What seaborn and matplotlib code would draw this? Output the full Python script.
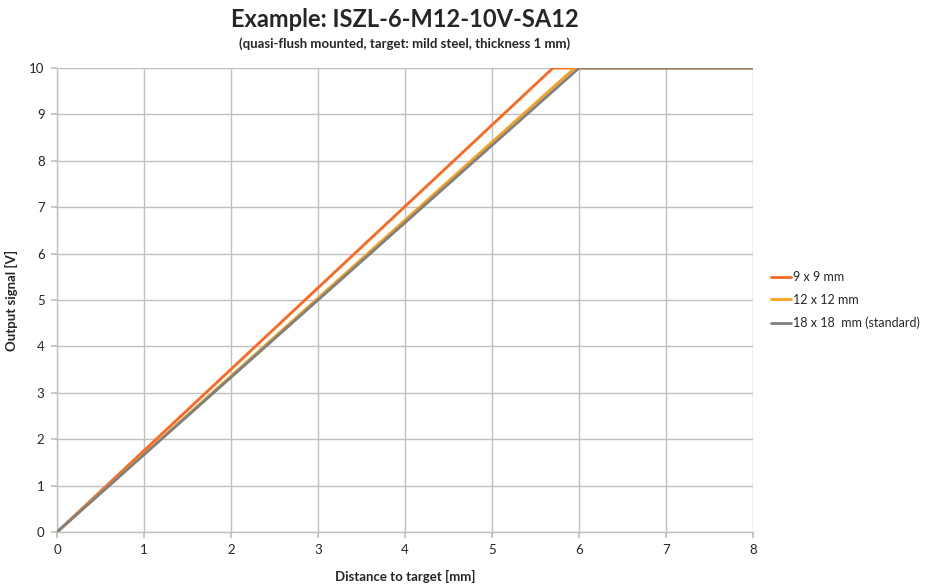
import matplotlib
matplotlib.use("Agg")
import matplotlib.pyplot as plt
import seaborn as sns
import pandas as pd

# readings from the reference chart
series = ["9 x 9 mm", "12 x 12 mm", "18 x 18  mm (standard)"]
dist_9 = [0, 5.7, 8]
volt_9 = [0, 10, 10]
dist_12 = [0, 5.95, 8]
volt_12 = [0, 10, 10]
dist_18 = [0, 6.0, 8]
volt_18 = [0, 10, 10]
colors = ["#FF671F", "#F8A01C", "#808080"]

df = pd.concat([
    pd.DataFrame({"Distance": dist_9, "Signal": volt_9, "Sensor": series[0]}),
    pd.DataFrame({"Distance": dist_12, "Signal": volt_12, "Sensor": series[1]}),
    pd.DataFrame({"Distance": dist_18, "Signal": volt_18, "Sensor": series[2]}),
])

sns.set_theme(style="whitegrid")
plt.rcParams['font.family'] = ['Lato', 'DejaVu Sans']

fig = plt.figure(figsize=(9.32, 5.85), dpi=100)
ax = fig.add_axes([0.0612, 0.0906, 0.7468, 0.7932])

sns.lineplot(data=df, x="Distance", y="Signal", hue="Sensor",
             palette=dict(zip(series, colors)), hue_order=series,
             linewidth=2, ax=ax, zorder=3)

ax.set_xlim(0, 8)
ax.set_ylim(0, 10)
ax.set_xticks(range(0, 9))
ax.set_yticks(range(0, 11))
ax.grid(True, color="#C0C0C0", linewidth=1)
for s in ["top", "right"]:
    ax.spines[s].set_visible(False)
for s in ["left", "bottom"]:
    ax.spines[s].set_color("#C0C0C0")
    ax.spines[s].set_linewidth(1)
ax.tick_params(axis="both", which="both", length=4, color="#C0C0C0",
               labelsize=9.5, pad=5, bottom=True, left=True)

ax.set_xlabel("Distance to target [mm]", fontsize=9.5, fontweight="bold", labelpad=10)
ax.set_ylabel("Output signal [V]", fontsize=9.5, fontweight="bold", labelpad=8)

fig.text(0.434, 0.966, "Example: ISZL-6-M12-10V-SA12", ha="center", va="center",
         fontsize=17, fontweight="bold")
fig.text(0.434, 0.925, "(quasi-flush mounted, target: mild steel, thickness 1 mm)",
         ha="center", va="center", fontsize=9.5, fontweight="bold")

ax.legend(loc="center left", bbox_to_anchor=(1.01, 0.5), frameon=False,
          fontsize=9, handlelength=1.6, handletextpad=0.15, labelspacing=0.85)

fig.savefig("out.png", dpi=100)
